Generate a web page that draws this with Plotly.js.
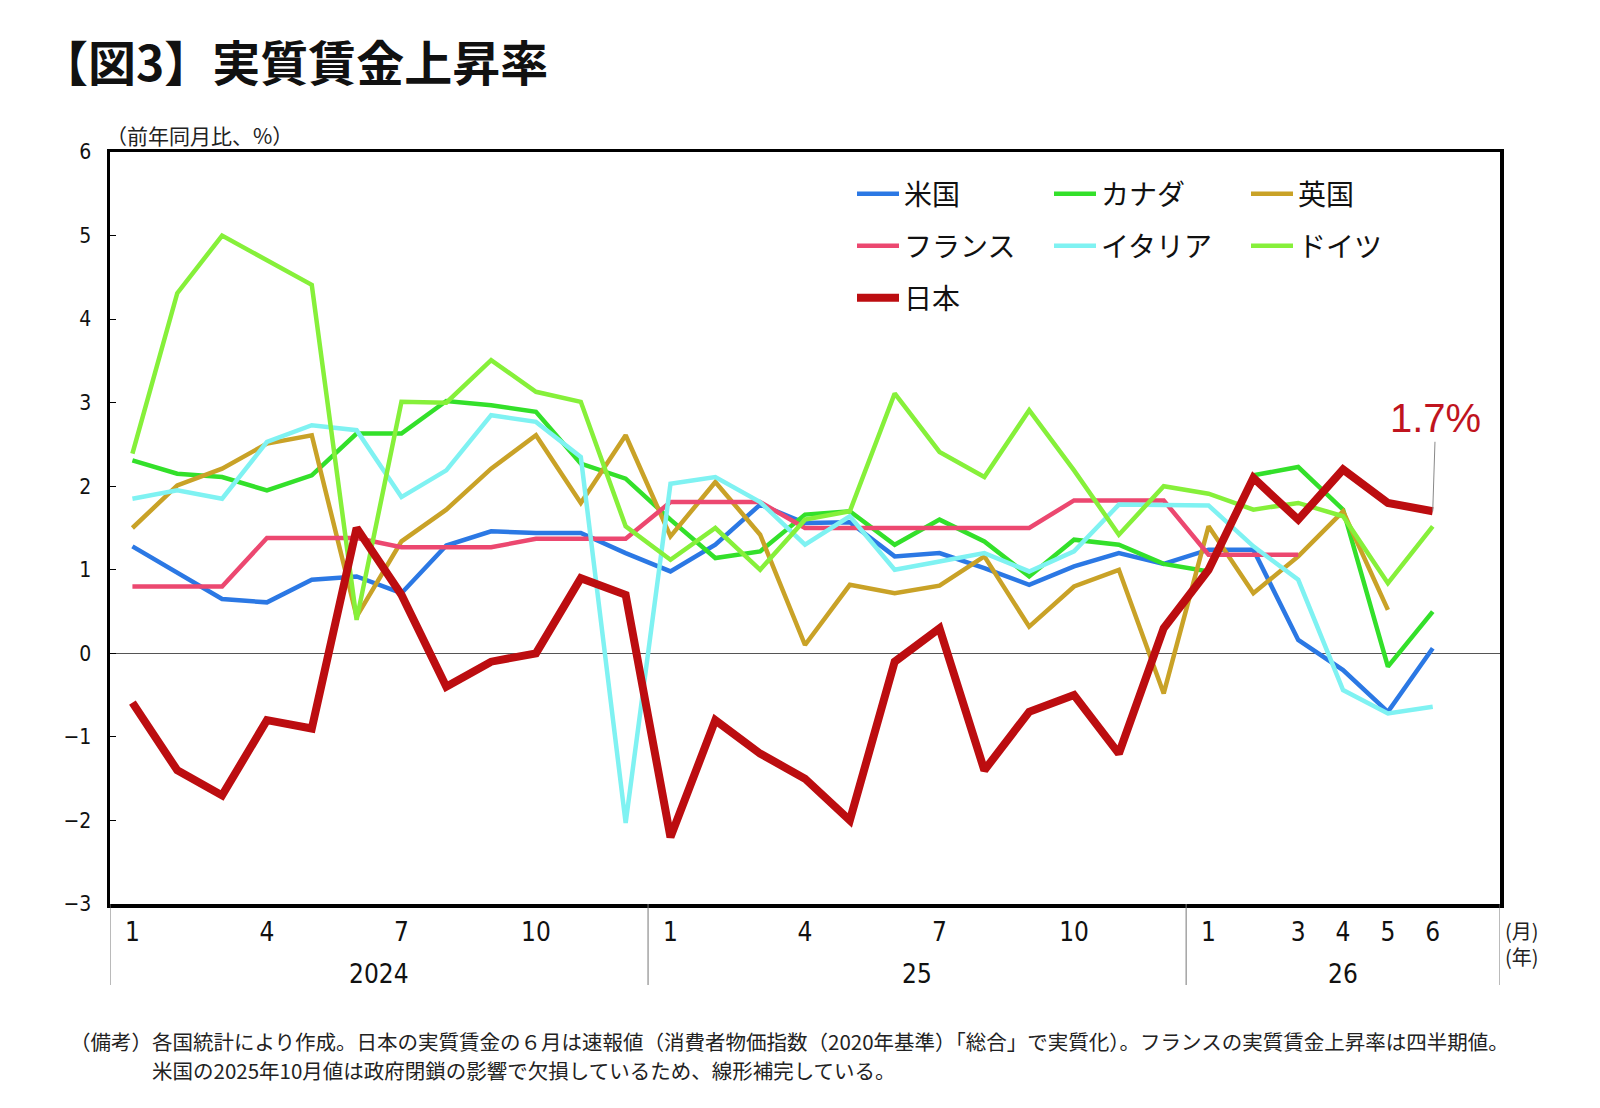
<!DOCTYPE html>
<html>
<head>
<meta charset="utf-8">
<script src="https://cdn.plot.ly/plotly-3.0.1.min.js"></script>
<style>
  html, body { margin: 0; padding: 0; background: #fff; }
  #chart { width: 1600px; height: 1108px; }
</style>
</head>
<body>
<div id="chart"></div>
<script>
// monthly, 2024-01 ... 2026-06 (index 0..29)
const us      = [1.28, 0.96, 0.65, 0.61, 0.88, 0.92, 0.72, 1.29, 1.46, 1.44, 1.44, 1.20, 0.98, 1.30, 1.78, 1.56, 1.57, 1.16, 1.20, 1.02, 0.82, 1.04, 1.20, 1.07, 1.24, 1.24, 0.16, -0.20, -0.70, 0.06];
const canada  = [2.31, 2.15, 2.11, 1.95, 2.13, 2.63, 2.63, 3.02, 2.97, 2.89, 2.27, 2.09, 1.60, 1.14, 1.22, 1.66, 1.70, 1.30, 1.60, 1.34, 0.92, 1.36, 1.30, 1.07, 0.98, 2.13, 2.23, 1.72, -0.16, 0.50];
const uk      = [1.50, 2.01, 2.21, 2.51, 2.61, 0.44, 1.34, 1.72, 2.21, 2.61, 1.80, 2.61, 1.40, 2.05, 1.42, 0.10, 0.82, 0.72, 0.81, 1.16, 0.32, 0.80, 1.00, -0.48, 1.52, 0.72, 1.16, 1.70, 0.52, null];
const france  = [0.80, 0.80, 0.80, 1.38, 1.38, 1.38, 1.27, 1.27, 1.27, 1.37, 1.37, 1.37, 1.81, 1.81, 1.81, 1.50, 1.50, 1.50, 1.50, 1.50, 1.50, 1.83, 1.83, 1.83, 1.18, 1.18, 1.18, null, null, null];
const italy   = [1.85, 1.95, 1.85, 2.53, 2.73, 2.67, 1.87, 2.19, 2.85, 2.77, 2.35, -2.03, 2.03, 2.11, 1.81, 1.30, 1.64, 1.00, 1.10, 1.20, 0.98, 1.22, 1.78, 1.78, 1.77, 1.28, 0.88, -0.44, -0.72, -0.64];
const germany = [2.39, 4.31, 5.00, 4.71, 4.41, 0.40, 3.01, 3.00, 3.51, 3.13, 3.01, 1.52, 1.12, 1.50, 1.00, 1.60, 1.70, 3.11, 2.41, 2.11, 2.91, 2.19, 1.42, 2.00, 1.91, 1.72, 1.80, 1.64, 0.84, 1.52];
const japan   = [-0.59, -1.40, -1.70, -0.80, -0.90, 1.50, 0.70, -0.40, -0.10, 0.00, 0.90, 0.70, -2.20, -0.80, -1.20, -1.50, -2.00, -0.10, 0.30, -1.40, -0.70, -0.50, -1.20, 0.30, 1.00, 2.10, 1.60, 2.20, 1.80, 1.70];

const tickIdx  = [0, 3, 6, 9, 12, 15, 18, 21, 24, 26, 27, 28, 29];
const tickText = ['1', '4', '7', '10', '1', '4', '7', '10', '1', '3', '4', '5', '6'];
const yearLabels  = ['2024', '25', '26'];
const yearCenters = [5.5, 17.5, 27];
const yearBounds  = [-0.5, 11.5, 23.5, 30.5];

const idx = japan.map((_, i) => i);

const narrow = '"DejaVu Sans Condensed", "DejaVu Sans", sans-serif';
const jp = '"Noto Sans CJK JP", sans-serif';

// plot area in px: left 110, right 1500, top 152, bottom 904
const L = 110, R = 1500, T = 152, B = 904;
const px = v => (v - L) / (R - L);
const py = v => (B - v) / (B - T);

function line(name, y, color, width, legend) {
  return {
    x: idx, y: y, name: name, type: 'scatter', mode: 'lines',
    line: { color: color, width: width },
    legend: legend, connectgaps: false
  };
}

const data = [
  line('米国',     us,      '#2B78E4', 4.5, 'legend'),
  line('カナダ',   canada,  '#33E02A', 4.5, 'legend'),
  line('英国',     uk,      '#C9A227', 4.5, 'legend'),
  line('フランス', france,  '#EC4870', 4.5, 'legend2'),
  line('イタリア', italy,   '#7FF2F2', 4.5, 'legend2'),
  line('ドイツ',   germany, '#86F03A', 4.5, 'legend2'),
  line('日本',     japan,   '#BC0D10', 8,   'legend3')
];

function legendRow(yPx) {
  return {
    orientation: 'h', x: px(852), xanchor: 'left', y: py(yPx), yanchor: 'middle',
    entrywidth: 140, entrywidthmode: 'pixels', itemwidth: 42,
    bgcolor: 'rgba(0,0,0,0)', borderwidth: 0,
    font: { family: jp, size: 28, color: '#111' }, traceorder: 'normal'
  };
}

const shapes = yearBounds.map(b => ({
  type: 'line', xref: 'x', yref: 'paper', x0: b, x1: b, y0: 0, y1: py(985),
  line: { color: '#777', width: 1 }
}));

const annotations = [
  { text: '<b>【図3】実質賃金上昇率</b>', xref: 'paper', yref: 'paper', x: px(38), y: py(60),
    xanchor: 'left', yanchor: 'middle', showarrow: false,
    font: { family: jp, size: 48, weight: 900, color: '#111' } },
  { text: '（前年同月比、%）', xref: 'paper', yref: 'paper', x: px(104), y: py(135),
    xanchor: 'left', yanchor: 'middle', showarrow: false,
    font: { family: jp, size: 21, color: '#222' } },
  { text: '(月)<br>(年)', xref: 'paper', yref: 'paper', x: px(1503), y: py(943),
    xanchor: 'left', yanchor: 'middle', align: 'left', showarrow: false,
    font: { family: jp, size: 20, color: '#222' } },
  { text: '（備考）各国統計により作成。日本の実質賃金の６月は速報値（消費者物価指数（2020年基準）「総合」で実質化）。フランスの実質賃金上昇率は四半期値。',
    xref: 'paper', yref: 'paper', x: px(68), y: py(1041),
    xanchor: 'left', yanchor: 'middle', showarrow: false,
    font: { family: jp, size: 20.5, color: '#222' } },
  { text: '米国の2025年10月値は政府閉鎖の影響で欠損しているため、線形補完している。',
    xref: 'paper', yref: 'paper', x: px(150), y: py(1070),
    xanchor: 'left', yanchor: 'middle', showarrow: false,
    font: { family: jp, size: 20.5, color: '#222' } },
  { text: '1.7%', xref: 'x', yref: 'y', x: 29, y: japan[29],
    showarrow: true, arrowhead: 0, arrowwidth: 1, arrowcolor: '#888',
    ax: 3, ay: -93, font: { family: '"Liberation Sans", sans-serif', size: 40, color: '#C0141E' } }
];

yearLabels.forEach((t, i) => annotations.push({
  text: t, xref: 'x', yref: 'paper', x: yearCenters[i], y: py(974),
  xanchor: 'center', yanchor: 'middle', showarrow: false,
  font: { family: narrow, size: 26, stretch: 'condensed', color: '#111' }
}));

const layout = {
  width: 1600, height: 1108,
  margin: { l: L, r: 1600 - R, t: T, b: 1108 - B },
  paper_bgcolor: '#fff', plot_bgcolor: '#fff',
  showlegend: true,
  legend: legendRow(194),
  legend2: legendRow(246),
  legend3: legendRow(298),
  xaxis: {
    range: [-0.5, 30.5], tickvals: tickIdx, ticktext: tickText,
    showgrid: false, zeroline: false, showline: true, mirror: true,
    linecolor: '#000', linewidth: 3.5, ticks: '',
    tickfont: { family: narrow, size: 26, stretch: 'condensed', color: '#111' }, ticklabelstandoff: 2
  },
  yaxis: {
    range: [-3, 6], tick0: 0, dtick: 1,
    showgrid: false, zeroline: true, zerolinecolor: '#555', zerolinewidth: 1,
    showline: true, mirror: true, linecolor: '#000', linewidth: 3.5,
    ticks: 'inside', ticklen: 6, tickcolor: '#000', tickwidth: 1,
    tickfont: { family: narrow, size: 21, stretch: 'condensed', color: '#111' }, ticklabelstandoff: 11
  },
  shapes: shapes,
  annotations: annotations
};

Plotly.newPlot('chart', data, layout, { staticPlot: true });
</script>
</body>
</html>
